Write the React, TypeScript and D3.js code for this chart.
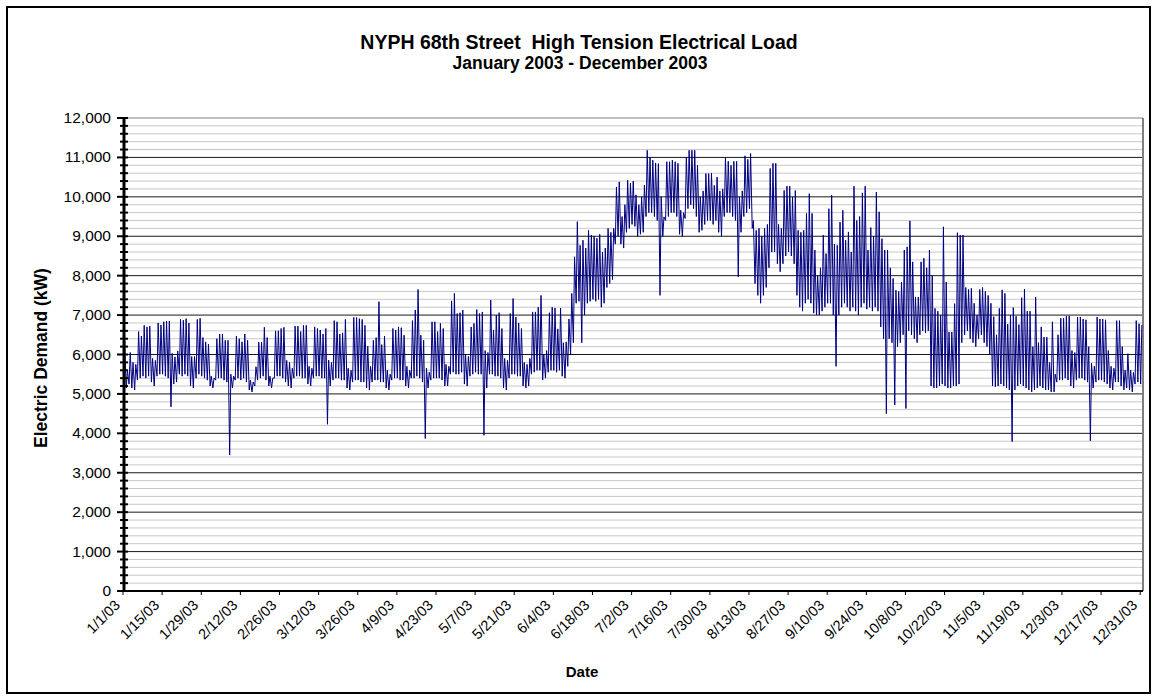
import { useMemo } from 'react';
import * as d3 from 'd3';

// ---- data: daily peak and daily overnight low (kW) ----
const janPeak = [6350, 5600, 6050, 5800, 5750, 6580, 6470, 6740, 6700, 6720, 5900, 5850, 6800, 6750, 6830, 6850, 6850, 6030, 5940, 6090, 6890, 6870, 6910, 6800, 5950, 5950, 6890, 6920, 6430, 6320, 6260];
const janLow = [5200, 5150, 5250, 5150, 5100, 5350, 5400, 5450, 5400, 5450, 5300, 5200, 5450, 5500, 5500, 5450, 5400, 4670, 5250, 5300, 5500, 5450, 5500, 5450, 5200, 5150, 5400, 5500, 5450, 5400, 5350];
const febPeak = [5450, 5400, 6400, 6520, 6520, 6360, 6360, 5500, 5450, 6470, 6400, 6320, 6520, 6360, 5350, 5300, 5690, 6310, 6310, 6690, 6430, 5450, 5400, 6600, 6600, 6660, 6690, 5850];
const febLow = [5200, 5150, 5350, 5400, 5400, 5350, 5300, 3450, 5150, 5350, 5400, 5350, 5400, 5300, 5100, 5050, 5200, 5350, 5400, 5450, 5350, 5200, 5150, 5400, 5450, 5450, 5400, 5300];
const marPeak = [5800, 5650, 6720, 6720, 6580, 6740, 6740, 5700, 5650, 6700, 6660, 6620, 6520, 6660, 5860, 5800, 6860, 6830, 6520, 6550, 6890, 5650, 5600, 6940, 6940, 6910, 6890, 6740, 6210, 5700, 6360];
const marLow = [5200, 5150, 5400, 5450, 5450, 5400, 5400, 5250, 5200, 5400, 5450, 5450, 5400, 5400, 4230, 5200, 5350, 5400, 5400, 5350, 5350, 5150, 5100, 5300, 5350, 5350, 5300, 5300, 5150, 5100, 5300];
const aprPeak = [6430, 7340, 6250, 6470, 5600, 5500, 6660, 6620, 6700, 6680, 6490, 5700, 5600, 6860, 7130, 7650, 6490, 6360, 5650, 5550, 6830, 6830, 6580, 6790, 6660, 5750, 5700, 7360, 7550, 7040];
const aprLow = [5350, 5350, 5300, 5300, 5150, 5100, 5350, 5400, 5400, 5350, 5350, 5200, 5150, 5400, 5400, 5450, 5400, 5300, 3870, 5150, 5350, 5400, 5400, 5400, 5350, 5200, 5200, 5500, 5550, 5500];
const mayPeak = [7060, 7130, 6000, 5950, 6700, 6790, 7140, 7040, 7080, 6100, 6050, 7380, 6620, 7000, 7060, 6660, 5900, 5850, 7040, 7420, 6950, 6800, 6660, 5800, 5750, 5900, 7080, 7080, 7200, 7500, 6000];
const mayLow = [5500, 5550, 5250, 5200, 5450, 5500, 5550, 5500, 5500, 3950, 5150, 5500, 5500, 5450, 5450, 5400, 5150, 5100, 5400, 5500, 5500, 5450, 5450, 5200, 5150, 5200, 5500, 5550, 5600, 5600, 5350];
const junPeak = [6100, 7060, 7200, 7180, 6650, 7180, 6300, 6320, 6900, 7550, 8480, 9370, 8770, 8900, 8700, 9150, 9030, 9000, 8950, 9050, 8600, 8700, 9200, 9100, 9200, 10250, 10380, 9500, 9800, 10420];
const junLow = [5400, 5550, 5600, 5600, 5550, 5600, 5450, 5400, 5700, 6000, 6300, 7300, 7350, 6300, 7000, 7300, 7350, 7400, 7350, 7400, 7200, 7300, 7700, 7800, 7900, 8800, 9000, 8800, 8700, 9100];
const julPeak = [10350, 10400, 10050, 9800, 10000, 10300, 11180, 11010, 10930, 10860, 10840, 10000, 9490, 10890, 10890, 10930, 10890, 10850, 9660, 9600, 11010, 11180, 11180, 11180, 10800, 10000, 10150, 10590, 10590, 10600, 10290];
const julLow = [9200, 9300, 9250, 9000, 9050, 9100, 9500, 9600, 9600, 9500, 9400, 7500, 9000, 9400, 9500, 9600, 9600, 9500, 9050, 9000, 9450, 9700, 9800, 9700, 9500, 9100, 9150, 9300, 9400, 9400, 9300];
const augPeak = [10500, 10150, 10200, 11010, 10900, 10800, 10900, 10900, 10000, 10150, 11040, 10950, 11100, 9400, 9150, 9200, 9000, 9200, 9300, 10720, 10850, 10850, 9300, 9200, 10160, 10270, 10270, 10000, 10160, 9150, 9100];
const augLow = [9400, 9100, 9000, 9500, 9600, 9600, 9500, 9400, 7970, 9100, 9500, 9600, 9700, 9200, 7800, 7500, 7300, 7500, 7700, 8200, 8600, 8600, 8300, 8100, 8300, 8500, 8600, 8500, 8300, 7500, 7200];
const sepPeak = [9150, 9580, 10080, 9580, 8650, 8000, 8200, 9030, 8560, 9700, 10040, 8800, 8770, 9360, 9660, 8900, 9110, 8600, 10270, 9400, 9500, 10100, 10270, 8650, 9220, 9000, 10120, 9620, 8940, 8650];
const sepLow = [7100, 7300, 7400, 7300, 7050, 7000, 7000, 7100, 7200, 7300, 7300, 7000, 5700, 7000, 7200, 7300, 7200, 7100, 7200, 7100, 7000, 7200, 7300, 7150, 7200, 7100, 7200, 7100, 6700, 6400];
const octPeak = [8650, 8200, 7930, 7630, 7600, 7840, 8650, 8730, 9390, 8350, 7460, 7460, 8350, 8440, 8200, 8650, 8010, 7170, 7100, 7000, 9240, 7840, 6570, 6570, 7290, 9090, 9030, 9030, 7700, 7650, 7680];
const octLow = [4500, 6400, 6300, 4720, 6200, 6300, 6500, 4630, 6600, 6500, 6400, 6300, 6500, 6600, 6550, 6600, 5200, 5150, 5150, 5200, 5250, 5200, 5150, 5150, 5200, 5200, 5250, 6300, 6500, 6600, 6400];
const novPeak = [7300, 7000, 7650, 7700, 7600, 7500, 7300, 6960, 6500, 7170, 7640, 7550, 6770, 7000, 7190, 6970, 6760, 7440, 7660, 7100, 7100, 6200, 7460, 6300, 6700, 6440, 6440, 5800, 6830, 5500];
const novLow = [6300, 6200, 6400, 6500, 6300, 6200, 6000, 5200, 5180, 5200, 5250, 5200, 5150, 5100, 3790, 5100, 5200, 5250, 5200, 5150, 5100, 5050, 5100, 5150, 5200, 5150, 5100, 5100, 5050, 5050];
const decPeak = [6500, 6920, 6920, 6970, 6980, 6100, 6050, 6950, 6950, 6900, 6880, 6200, 5780, 5700, 6950, 6900, 6900, 6880, 6100, 5700, 5650, 6860, 6860, 6200, 5600, 6020, 5600, 5550, 6860, 6780, 6750];
const decLow = [5300, 5350, 5350, 5400, 5350, 5200, 5150, 5350, 5400, 5400, 5350, 5300, 3810, 5150, 5300, 5350, 5350, 5300, 5250, 5150, 5100, 5300, 5300, 5200, 5100, 5150, 5100, 5050, 5250, 5300, 5250];

const dailyPeak = [...janPeak, ...febPeak, ...marPeak, ...aprPeak, ...mayPeak, ...junPeak, ...julPeak, ...augPeak, ...sepPeak, ...octPeak, ...novPeak, ...decPeak];
const dailyLow = [...janLow, ...febLow, ...marLow, ...aprLow, ...mayLow, ...junLow, ...julLow, ...augLow, ...sepLow, ...octLow, ...novLow, ...decLow];

const xTickLabels = ['1/1/03', '1/15/03', '1/29/03', '2/12/03', '2/26/03', '3/12/03', '3/26/03', '4/9/03', '4/23/03', '5/7/03', '5/21/03', '6/4/03', '6/18/03', '7/2/03', '7/16/03', '7/30/03', '8/13/03', '8/27/03', '9/10/03', '9/24/03', '10/8/03', '10/22/03', '11/5/03', '11/19/03', '12/3/03', '12/17/03', '12/31/03'];
const yTickValues = [0, 1000, 2000, 3000, 4000, 5000, 6000, 7000, 8000, 9000, 10000, 11000, 12000];

const FONT = '"Liberation Sans", Arial, sans-serif';
const LEFT = 123, RIGHT = 1143, TOP = 118, BOTTOM = 591;

const parseLabel = (s: string) => {
  const [m, d, y] = s.split('/').map(Number);
  return new Date(2000 + y, m - 1, d);
};

export default function App() {
  const x = d3.scaleTime()
    .domain([new Date(2003, 0, 1), new Date(2004, 0, 1)])
    .range([LEFT, RIGHT]);
  const y = d3.scaleLinear().domain([0, 12000]).range([BOTTOM, TOP]);

  const points = useMemo(() => {
    const pts: { t: Date; v: number }[] = [];
    dailyPeak.forEach((pk, i) => {
      // overnight low early morning, peak early afternoon
      pts.push({ t: new Date(2003, 0, 1 + i, 4), v: dailyLow[i] });
      pts.push({ t: new Date(2003, 0, 1 + i, 14), v: pk });
    });
    return pts;
  }, []);

  const line = d3.line<{ t: Date; v: number }>()
    .x(p => x(p.t))
    .y(p => y(p.v));

  const minorTicks = y.ticks(60).filter(v => v % 1000 !== 0);
  const xTicks = xTickLabels.map(parseLabel);
  const fmt = d3.format(',');

  return (
    <svg width={1157} height={700} style={{ position: 'absolute', left: 0, top: 0, display: 'block' }} fontFamily={FONT}>
      <rect x={0} y={0} width={1157} height={700} fill="#fff" />
      <rect x={7} y={7} width={1143} height={686} fill="none" stroke="#000" strokeWidth={2} />

      {/* title */}
      <text x={579} y={49} textAnchor="middle" fontSize={19.5} fontWeight="bold" style={{ whiteSpace: 'pre' }}>NYPH 68th Street  High Tension Electrical Load</text>
      <text x={580} y={69} textAnchor="middle" fontSize={17.5} fontWeight="bold">January 2003 - December 2003</text>

      {/* gridlines */}
      {minorTicks.map(v => (
        <line key={'m' + v} x1={LEFT} x2={RIGHT} y1={y(v)} y2={y(v)} stroke="#c8c8c8" strokeWidth={1} />
      ))}
      {yTickValues.map(v => (
        <line key={'g' + v} x1={LEFT} x2={RIGHT} y1={y(v)} y2={y(v)} stroke={v === 12000 ? '#808080' : '#1a1a1a'} strokeWidth={1} />
      ))}
      <line x1={RIGHT} x2={RIGHT} y1={TOP} y2={BOTTOM} stroke="#808080" strokeWidth={2} />

      {/* series */}
      <path d={line(points) || ''} fill="none" stroke="#000080" strokeWidth={1} />

      {/* y axis */}
      <line x1={LEFT + 1} x2={LEFT + 1} y1={TOP - 1} y2={BOTTOM + 1} stroke="#000" strokeWidth={3} />
      {minorTicks.map(v => (
        <line key={'mt' + v} x1={LEFT - 3} x2={LEFT + 5} y1={y(v)} y2={y(v)} stroke="#000" strokeWidth={2} />
      ))}
      {yTickValues.map(v => (
        <g key={'yt' + v}>
          <line x1={LEFT - 6} x2={LEFT + 5} y1={y(v)} y2={y(v)} stroke="#000" strokeWidth={2} />
          <text x={111} y={y(v) + 5} textAnchor="end" fontSize={15.5}>{fmt(v)}</text>
        </g>
      ))}

      {/* x axis */}
      <line x1={LEFT} x2={RIGHT} y1={BOTTOM} y2={BOTTOM} stroke="#000" strokeWidth={2} />
      {xTicks.map((t, i) => (
        <g key={'xt' + i}>
          <line x1={x(t)} x2={x(t)} y1={BOTTOM} y2={BOTTOM + 4} stroke="#000" strokeWidth={1} />
          <text transform={`translate(${x(t) - 2},${BOTTOM + 15}) rotate(-45)`} textAnchor="end" fontSize={14.5}>{xTickLabels[i]}</text>
        </g>
      ))}

      {/* axis titles */}
      <text transform={`translate(47,358) rotate(-90)`} textAnchor="middle" fontSize={17.5} fontWeight="bold">Electric Demand (kW)</text>
      <text x={582} y={677} textAnchor="middle" fontSize={15} fontWeight="bold">Date</text>
    </svg>
  );
}
